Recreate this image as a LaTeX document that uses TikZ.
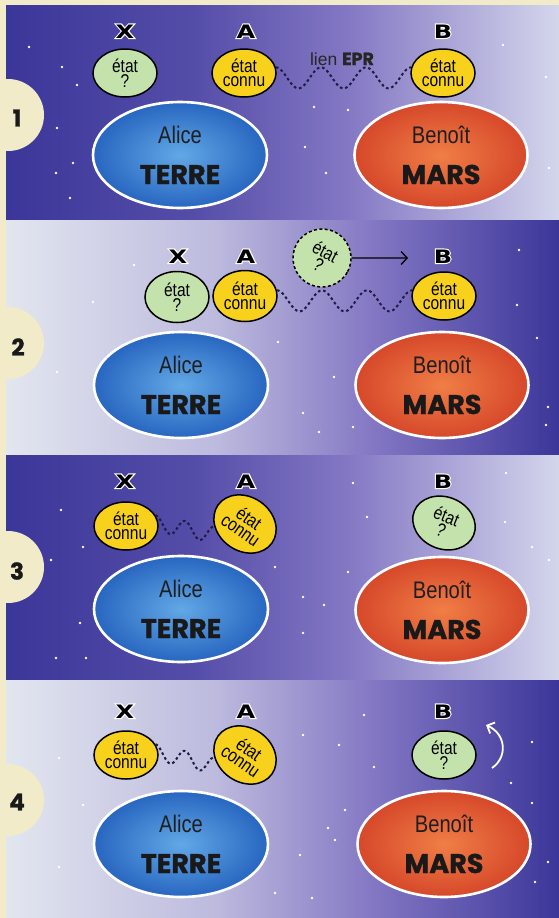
\documentclass[tikz,border=0pt]{standalone}
\usepackage{fontspec}
\setmainfont{Liberation Sans}
\newfontfamily\condfont{Liberation Sans}[FakeStretch=0.84]
\newfontfamily\heavyfont{Poppins}[BoldFeatures={FakeBold=1.2}]
\newfontfamily\letterfont{DejaVu Sans}[FakeStretch=1.3]
\newfontfamily\letterrim{DejaVu Sans}[FakeStretch=1.3, BoldFeatures={FakeBold=12}]
\usetikzlibrary{shapes.geometric, arrows.meta, calc}

% palette
\definecolor{frameBeige}{HTML}{F1EBC9}
\definecolor{skyDeep}{HTML}{3B3699}
\definecolor{skyMid}{HTML}{8478C4}
\definecolor{skyPale}{HTML}{D4D6EC}
\definecolor{skyWhite}{HTML}{E2E6EF}
\colorlet{skyDeepMid}{skyDeep!65!skyMid}
\colorlet{skyWhiteMid}{skyMid!40!skyWhite}
\definecolor{stateGreen}{HTML}{C4E3AC}
\definecolor{stateYellow}{HTML}{F7D11B}
\definecolor{earthIn}{HTML}{62A8E6}
\definecolor{earthOut}{HTML}{2866C0}
\definecolor{marsIn}{HTML}{F07E46}
\definecolor{marsOut}{HTML}{D6482A}
\definecolor{waveInk}{HTML}{1C1C44}

% sky backgrounds: dark on the left, or dark on the right
\pgfdeclarehorizontalshading{nightleft}{100bp}{color(0bp)=(skyDeep); color(25bp)=(skyDeep); color(42bp)=(skyDeepMid); color(56bp)=(skyMid); color(75bp)=(skyPale); color(100bp)=(skyPale)}
\pgfdeclarehorizontalshading{nightright}{100bp}{color(0bp)=(skyWhite); color(25bp)=(skyWhite); color(44bp)=(skyWhiteMid); color(58bp)=(skyMid); color(75bp)=(skyDeep); color(100bp)=(skyDeep)}

% black letter with a white rim behind it
\newcommand\halo[1]{%
  \leavevmode
  \rlap{\textcolor{white}{\letterrim\bfseries #1}}%
  {\letterfont\bfseries #1}}

% planet with its inhabitant and its name
\newcommand\drawplanet[6]{%
  \node[#4] (#1) at (#2,#3) {};
  \node[who] (#1-who) at ([yshift=11.5pt]#1.center) {#5};
  \node[where] (#1-where) at ([yshift=-29pt]#1.center) {#6};
}

% dotted EPR link: a cosine wave from one anchor to another
\newcommand\eprwave[4]{%
  \draw[eprline] let \p1=(#1), \p2=(#2) in
    plot[domain=0:1, samples=120, variable=\t]
      ({\x1+(\x2-\x1)*\t}, {\y1+(\y2-\y1)*\t-#4*(1-cos(360*#3*\t))});
}

\begin{document}
\begin{tikzpicture}[x=1pt, y=-1pt,
  state/.style={ellipse, draw=black, line width=1.5pt, minimum width=64pt,
    minimum height=48pt, inner sep=0pt, align=center,
    font=\condfont\fontsize{18.5}{14.5}\selectfont},
  known/.style={state, fill=stateYellow},
  unknown/.style={state, fill=stateGreen},
  tag/.style={font=\fontsize{18.5}{18.5}\selectfont, anchor=base, inner sep=0pt},
  stepnum/.style={font=\heavyfont\bfseries\fontsize{23}{23}\selectfont,
    inner sep=0pt, text=black!90},
  earth/.style={ellipse, draw=white, line width=2.6pt, minimum width=174pt,
    minimum height=106pt, inner color=earthIn, outer color=earthOut},
  mars/.style={ellipse, draw=white, line width=2.6pt, minimum width=173pt,
    minimum height=106pt, inner color=marsIn, outer color=marsOut},
  who/.style={font=\condfont\fontsize{24}{24}\selectfont, anchor=base,
    inner sep=0pt, text=black!88},
  where/.style={font=\heavyfont\bfseries\fontsize{27}{27}\selectfont,
    anchor=base, inner sep=0pt, text=black!90},
  eprline/.style={draw=waveInk, line width=2pt, dash pattern=on 2.6pt off 2.8pt},
  passarrow/.style={draw=black, line width=1.3pt,
    -{Straight Barb[length=6pt, width=13pt, line width=1.3pt]}},
  turnarrow/.style={draw=white, line width=1.8pt,
    -{Straight Barb[length=6pt, width=12pt, line width=1.8pt]}},
]
\useasboundingbox (0,0) rectangle (559,918);

% frame and the four sky panels
\fill[frameBeige] (0,0) rectangle (559,918);
\shade[shading=nightleft] (6,5) rectangle (559,220);
\shade[shading=nightright] (6,220) rectangle (559,455);
\shade[shading=nightleft] (6,455) rectangle (559,680);
\shade[shading=nightright] (6,680) rectangle (559,918);

% step tabs on the left edge
\begin{scope}
  \clip (0,0) rectangle (559,918);
  \foreach \yc in {115,343,567,800}
    \fill[frameBeige] (8,\yc) circle[radius=36];
\end{scope}
\node[stepnum] (n1) at (17,118) {1};
\node[stepnum] (n2) at (18,347) {2};
\node[stepnum] (n3) at (17,571) {3};
\node[stepnum] (n4) at (17,802) {4};

% stars
\foreach \sx/\sy in {29/47, 62/67, 77/85, 57/128, 56/173, 73/163, 70/198,
    314/107, 348/110, 305/147, 326/173, 503/45, 546/77, 549/168,
    134/265, 93/302, 57/372, 278/342, 334/377, 372/400, 303/413, 353/427,
    319/432, 517/305, 537/338, 548/407, 519/250, 546/425,
    61/510, 83/547, 51/560, 80/623, 56/658, 86/658, 275/567, 303/597,
    324/605, 303/633, 353/483, 367/517, 348/572, 506/473, 505/522,
    532/547, 549/560,
    59/758, 83/805, 59/867, 303/735, 339/745, 364/715, 374/767, 328/828,
    345/810, 335/840, 300/855, 275/893, 312/898, 532/742, 511/783,
    532/803, 548/862, 535/882}
  \fill[white] (\sx,\sy) circle[radius=1.4];

% ---------- step 1 ----------
\drawplanet{earth1}{180}{155}{earth}{Alice}{TERRE}
\drawplanet{mars1}{441}{155}{mars}{Benoît}{MARS}
\node[unknown] (x1) at (125,73) {état\\?};
\node[known] (a1) at (244,73) {état\\connu};
\node[known] (b1) at (443,73) {état\\connu};
\node[tag] (lx1) at (125,38) {\halo{X}};
\node[tag] (la1) at (246,38) {\halo{A}};
\node[tag] (lb1) at (443,38) {\halo{B}};
\node[font=\fontsize{17.5}{17.5}\selectfont, anchor=base, inner sep=0pt, text=black!85]
  (epr1) at (342,65) {lien {\heavyfont\bfseries EPR}};
\eprwave{a1.10}{b1.170}{3}{10.5pt}

% ---------- step 2 ----------
\drawplanet{earth2}{181}{385}{earth}{Alice}{TERRE}
\drawplanet{mars2}{442}{385}{mars}{Benoît}{MARS}
\node[unknown, minimum height=51pt] (x2) at (177,297) {état\\?};
\node[known, minimum height=51pt] (a2) at (245,296) {état\\connu};
\node[known] (b2) at (444,296) {état\\connu};
\node[unknown, circle, dashed, dash pattern=on 3pt off 2.4pt, minimum width=58pt,
  minimum height=58pt, rotate=-28] (q2) at (322,258) {état\\?};
\node[tag] (lx2) at (178,263) {\halo{X}};
\node[tag] (la2) at (246,263) {\halo{A}};
\node[tag] (lb2) at (443,263) {\halo{B}};
\eprwave{a2.10}{b2.170}{3}{10.5pt}
\coordinate (tip2) at (408,258);
\draw[passarrow] (q2) -- (tip2);

% ---------- step 3 ----------
\drawplanet{earth3}{181}{609}{earth}{Alice}{TERRE}
\drawplanet{mars3}{442}{610}{mars}{Benoît}{MARS}
\node[known] (x3) at (126,526) {état\\connu};
\node[known, minimum width=66pt, minimum height=54pt, rotate=-35] (a3) at (245,524) {état\\connu};
\node[unknown, minimum width=64pt, minimum height=52pt, rotate=-22] (b3) at (444,523) {état\\?};
\node[tag] (lx3) at (125,488) {\halo{X}};
\node[tag] (la3) at (246,488) {\halo{A}};
\node[tag] (lb3) at (443,488) {\halo{B}};
\eprwave{x3.20}{a3.220}{2}{8pt}

% ---------- step 4 ----------
\drawplanet{earth4}{181}{844}{earth}{Alice}{TERRE}
\drawplanet{mars4}{444}{844}{mars}{Benoît}{MARS}
\node[known] (x4) at (126,755) {état\\connu};
\node[known, minimum width=66pt, minimum height=54pt, rotate=-35] (a4) at (245,755) {état\\connu};
\node[unknown] (b4) at (444,755) {état\\?};
\node[tag] (lx4) at (125,718) {\halo{X}};
\node[tag] (la4) at (246,718) {\halo{A}};
\node[tag] (lb4) at (443,718) {\halo{B}};
\eprwave{x4.20}{a4.220}{2}{8pt}
\coordinate (turnfrom) at (492,768);
\coordinate (turnto) at (486,725);
\draw[turnarrow] (turnfrom) .. controls (508,757) and (506,734) .. (turnto);
\end{tikzpicture}
\end{document}
